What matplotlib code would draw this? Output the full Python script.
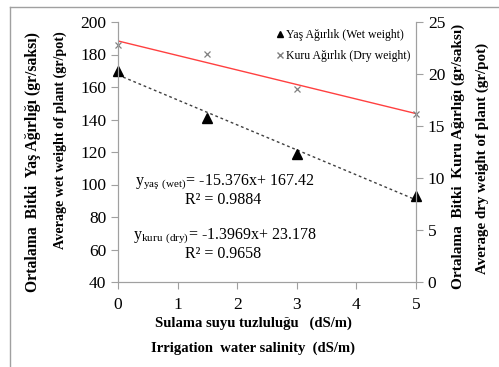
import numpy as np
import matplotlib
matplotlib.use("Agg")
import matplotlib.pyplot as plt
from matplotlib.lines import Line2D

plt.rcParams['font.family'] = ['Liberation Serif', 'DejaVu Serif']
plt.rcParams['mathtext.fontset'] = 'custom'
plt.rcParams['mathtext.rm'] = 'Liberation Serif'

# data
salinity = [0, 1.5, 3, 5]
wet = [170, 141, 119, 93]
dry = [22.8, 21.9, 18.6, 16.2]
wet_fit = (-15.376, 167.42)
dry_fit = (-1.3969, 23.178)

W, H = 499, 367
fig = plt.figure(figsize=(W / 100, H / 100), dpi=100)

def px(x, y):
    return x / W, 1 - y / H

# figure border (gray)
fig.add_artist(Line2D([10 / W, 10 / W], [0, 1 - 7 / H], transform=fig.transFigure, color='#a0a0a0', lw=1))
fig.add_artist(Line2D([10 / W, 1], [1 - 7 / H, 1 - 7 / H], transform=fig.transFigure, color='#a0a0a0', lw=1))

ax = fig.add_axes([118 / W, 1 - 282 / H, (416 - 118) / W, (282 - 22) / H])
ax2 = ax.twinx()

xx = np.array([0, 5])
ax.plot(xx, wet_fit[0] * xx + wet_fit[1], color='#404040', lw=1, ls=(0, (2, 2)))
ax.plot(salinity, wet, ls='none', marker='^', color='black', ms=7, clip_on=False)
ax2.plot(xx, dry_fit[0] * xx + dry_fit[1], color='#ff4040', lw=1)
ax2.plot(salinity, dry, ls='none', marker='x', color='#808080', ms=5, mew=0.9, clip_on=False)

ax.set_xlim(0, 5)
ax.set_ylim(40, 200)
ax2.set_ylim(0, 25)
ax.set_xticks(range(6))
ax.set_yticks(range(40, 201, 20))
ax2.set_yticks(range(0, 26, 5))

for a in (ax, ax2):
    for s in a.spines.values():
        s.set_color('#a0a0a0')
    a.spines['top'].set_visible(False)
    a.tick_params(colors='#a0a0a0', labelcolor='black', labelsize=12.5, length=5, direction='out')
ax.tick_params(axis='x', pad=6)

# axis titles
fig.text(*px(33, 162), 'Ortalama  Bitki  Yaş Ağırlığı (gr/saksı)', rotation=90,
         ha='center', va='center', fontsize=11.3, fontweight='bold')
fig.text(*px(60, 140), 'Average wet weight of plant (gr/pot)', rotation=90,
         ha='center', va='center', fontsize=10.2, fontweight='bold')
fig.text(*px(458, 156), 'Ortalama  Bitki  Kuru Ağırlığı (gr/saksı)', rotation=90,
         ha='center', va='center', fontsize=11, fontweight='bold')
fig.text(*px(482, 158), 'Average dry weight of plant (gr/pot)', rotation=90,
         ha='center', va='center', fontsize=10.8, fontweight='bold')
fig.text(*px(253, 323), 'Sulama suyu tuzluluğu   (dS/m)', ha='center', va='center',
         fontsize=10.5, fontweight='bold')
fig.text(*px(253, 348), 'Irrigation  water salinity  (dS/m)', ha='center', va='center',
         fontsize=10.5, fontweight='bold')

# equations
fig.text(*px(135, 182), r'y$_{\mathrm{yaş\ (wet)}}$= -15.376x+ 167.42', ha='left', va='center', fontsize=11.5)
fig.text(*px(185, 200), 'R² = 0.9884', ha='left', va='center', fontsize=11.5)
fig.text(*px(133, 236), r'y$_{\mathrm{kuru\ (dry)}}$= -1.3969x+ 23.178', ha='left', va='center', fontsize=11.5)
fig.text(*px(185, 254), 'R² = 0.9658', ha='left', va='center', fontsize=11.5)

# legend
handles = [Line2D([], [], ls='none', marker='^', color='black', ms=4.5),
           Line2D([], [], ls='none', marker='x', color='#808080', ms=4.5)]
ax2.legend(handles, ['Yaş Ağırlık (Wet weight)', 'Kuru Ağırlık (Dry weight)'],
           loc='upper left', bbox_to_anchor=(271 / W, 1 - 23 / H), bbox_transform=fig.transFigure,
           frameon=False, fontsize=8.5, handlelength=0.6, handletextpad=0.2,
           labelspacing=0.75, borderpad=0)

fig.savefig('out.png', dpi=100)
